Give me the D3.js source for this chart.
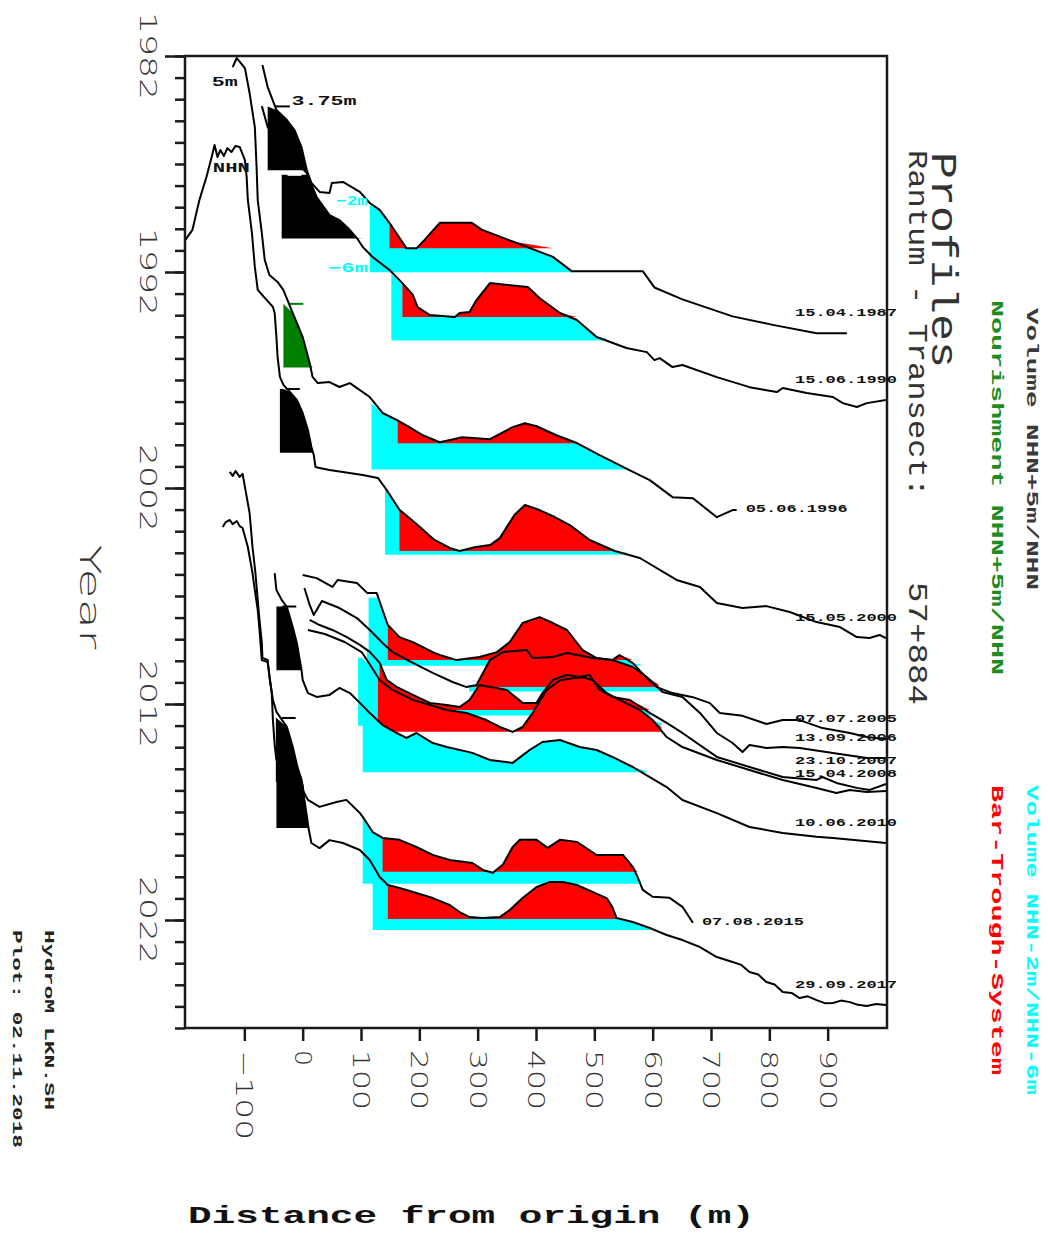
<!DOCTYPE html>
<html><head><meta charset="utf-8">
<script src="https://cdn.jsdelivr.net/npm/d3@7"></script>
<style>body{margin:0;background:#fff}</style>
</head><body><svg id="c" width="1048" height="1233"></svg>
<script>
// ---------------- DATA ----------------
const profileDates = ["15.04.1987","15.06.1990","05.06.1996","15.05.2000","07.07.2005","13.09.2006","23.10.2007","15.04.2008","10.06.2010","07.08.2015","29.09.2017"];

const p1987Dist = [-69,-60,-45,-27,-14,-2,7,15,29,46,50,69,98,115,132,149,178,195,209,235,290,307,360,429,461,583,603,651,737,806,881,933];
const p1987Elev = [6.19,4.89,3.54,2.95,2.36,1.36,0.01,-0.75,-1.28,-1.34,-0.75,-0.69,-1.28,-1.93,-2.34,-3.11,-4.6,-4.6,-4.1,-3.1,-3.1,-3.5,-4.2,-5.1,-5.94,-5.94,-6.9,-7.6,-8.6,-9.1,-9.6,-9.6];

const p1990Dist = [-70,-60,-31,-14,7,24,46,63,81,93,103,120,149,171,189,197,218,261,269,286,298,321,386,406,441,470,504,555,590,603,612,634,651,710,766,813,823,864,909,926,950,967,1000];
const p1990Elev = [7.79,6.56,5.21,4.62,3.85,2.44,1.38,1.09,0.5,0.03,-0.5,-1.09,-1.85,-2.62,-3.32,-4.03,-4.5,-4.62,-4.38,-4.32,-3.62,-2.62,-2.85,-3.5,-4.38,-4.79,-5.79,-6.44,-6.68,-7.15,-7.03,-7.56,-7.44,-8.15,-8.74,-9.03,-8.79,-9.09,-9.32,-9.68,-9.91,-9.68,-9.5];

const p1996Dist = [-120,-113,-99,-91,-82,-79,-77,-70,-65,-57,-43,-33,-17,0,12,17,26,46,63,81,115,137,161,183,206,235,274,321,360,381,401,435,471,509,561,595,634,669,710,737,744];
const p1996Elev = [17.68,18.21,17.62,16.15,14.15,11.79,9.85,7.91,6.33,5.45,5.04,4.56,3.21,1.8,0.27,-0.55,-0.91,-0.85,-1.14,-0.91,-1.73,-2.67,-3.08,-3.5,-3.98,-4.39,-4.09,-4.21,-3.5,-3.27,-3.45,-3.98,-4.45,-5.15,-6.04,-6.62,-7.62,-7.68,-8.8,-8.38,-8.38];

const p2000Dist = [-201,-189,-177,-165,-156,-151,-146,-141,-135,-129,-122,-115,-108,-99,-96,-94,-87,-82,-77,-65,-51,-48,-45,-43,-39,-33,-22,-10,0,9,15,19,22,29,46,103,129,144,166,183,201,226,252,269,295,321,338,363,381,406,432,458,492,535,578,641,681,710,754,795,835,881,921,950,972,989,1000];
const p2000Elev = [12.52,13.11,14.87,16.22,17.4,18.11,17.4,17.81,17.46,17.92,17.69,18.05,17.99,17.22,16.22,14.87,12.93,10.93,9.58,9.11,8.58,8.22,6.81,5.64,4.46,3.99,3.58,3.11,2.34,1.34,0.34,-0.13,-0.84,-0.89,-1.01,-1.31,-1.48,-2.19,-3.36,-3.84,-4.37,-5.13,-5.6,-5.78,-5.55,-5.43,-5.02,-3.66,-3.07,-3.37,-3.78,-4.25,-5.13,-5.78,-6.19,-7.48,-7.9,-8.84,-9.13,-9.02,-9.37,-9.96,-10.25,-10.84,-10.9,-10.72,-10.9];

const p2005Dist = [0,24,51,60,93,111,127,137,146,166,189,223,235,264,303,333,355,377,406,429,453,480,504,531,543,566,590,607,634,669,698,715,754,795,823,852,891,938,967,1000];
const p2005Elev = [-0.66,-0.84,-1.36,-0.95,-1.13,-1.72,-1.72,-2.72,-3.6,-4.31,-4.6,-5.19,-5.36,-5.66,-5.48,-5.19,-4.6,-3.48,-3.13,-3.48,-3.89,-5.07,-5.54,-5.66,-5.36,-5.84,-6.72,-7.25,-7.6,-7.84,-8.19,-8.77,-8.94,-9.42,-9.19,-9.19,-9.66,-9.95,-10.19,-10.31];

const p2006Dist = [3,12,19,33,63,93,115,137,154,189,223,257,281,298,321,343,384,394,429,453,497,531,566,590,617,651,681,710,737,754,766,795,823,852,909,967,1000];
const p2006Elev = [0.09,-0.91,-1.5,-0.68,-1.09,-1.68,-2.38,-3.15,-3.68,-4.32,-4.91,-5.44,-5.74,-5.62,-4.15,-3.68,-3.56,-4.03,-3.97,-3.74,-4.03,-4.15,-4.56,-5.15,-6.03,-6.32,-7.26,-8.44,-9.03,-9.56,-9.15,-9.32,-9.26,-9.32,-9.62,-9.91,-9.91];

const p2007Dist = [12,29,51,75,98,115,132,144,161,189,218,247,269,286,303,321,333,350,360,377,401,411,429,453,475,492,509,531,561,595,624,651,710,766,823,881,891,915,950,972,1000];
const p2007Elev = [-0.38,-0.68,-0.97,-1.38,-1.85,-2.26,-2.91,-3.91,-4.32,-4.79,-5.26,-5.38,-5.5,-5.09,-4.21,-4.32,-4.38,-4.5,-4.79,-5.26,-5.26,-4.68,-3.91,-3.62,-3.74,-3.62,-4.5,-4.91,-5.09,-5.85,-6.44,-7.03,-8.44,-9.03,-9.62,-9.79,-9.62,-9.97,-10.26,-10.38,-10.03];

const p2008Dist = [9,38,72,101,118,132,154,189,247,281,315,338,360,377,394,418,441,463,480,497,521,543,578,600,624,651,710,766,823,881,915,938,967,1000];
const p2008Elev = [-0.36,-0.6,-1.07,-1.66,-2.54,-3.31,-3.89,-4.48,-5.07,-5.25,-5.66,-6.07,-6.36,-6.07,-5.25,-3.91,-3.32,-3.2,-3.14,-3.32,-4.07,-4.48,-5.07,-5.66,-6.66,-7.25,-8.01,-8.6,-9.19,-9.66,-9.95,-9.78,-9.9,-9.83];

const p2010Dist = [-48,-45,-36,-27,-17,-10,-5,-2,0,9,24,46,63,81,98,115,137,161,178,195,223,247,291,321,360,389,411,441,475,504,531,566,595,624,651,710,766,823,881,909,1000];
const p2010Elev = [5.72,4.72,4.14,3.72,2.55,1.61,0.61,0.02,-0.57,-1.34,-1.57,-1.45,-1.04,-1.34,-1.92,-2.51,-3.22,-3.69,-3.98,-3.69,-4.28,-4.51,-4.86,-5.28,-5.45,-4.69,-4.22,-4.1,-4.51,-4.69,-5.1,-5.69,-6.28,-6.87,-7.63,-8.4,-9.22,-9.57,-9.8,-9.86,-10.16];

const p2015Dist = [-125,-120,-115,-108,-103,-99,-91,-86,-81,-77,-74,-70,-69,-60,-57,-51,-45,-27,-17,-9,-2,0,9,29,58,75,98,103,120,137,166,195,223,252,291,309,326,343,360,372,401,420,441,470,504,538,549,566,574,583,600,629,651,669];
const p2015Elev = [18.22,17.99,18.28,17.93,18.11,17.34,15.81,13.81,12.28,10.69,9.52,8.16,7.28,7.16,6.16,4.81,4.11,3.22,2.05,0.87,0.11,-0.48,-1.07,-1.48,-1.19,-1.07,-1.84,-2.07,-2.96,-3.31,-3.42,-3.84,-4.31,-4.6,-4.78,-5.19,-5.36,-4.89,-3.84,-3.42,-3.42,-3.89,-3.42,-3.54,-4.31,-4.31,-4.31,-5.01,-5.6,-6.36,-6.77,-6.83,-7.36,-8.3];

const p2017Dist = [-137,-132,-125,-120,-113,-108,-103,-94,-86,-82,-77,-74,-70,-60,-53,-51,-48,-45,-22,-5,0,3,7,10,15,29,46,69,98,115,132,146,166,195,223,252,269,286,309,338,355,377,401,423,446,470,497,521,531,538,566,595,624,651,681,710,737,752,766,781,795,809,823,838,852,866,881,895,909,923,938,952,967,983,1000];
const p2017Elev = [17.71,18.0,18.12,17.88,18.06,17.76,17.65,16.53,15.0,14.0,12.82,11.65,9.88,9.76,7.94,6.35,4.88,4.0,3.53,3.12,2.53,1.65,0.76,0,-0.88,-1.18,-0.71,-0.88,-1.29,-1.88,-2.88,-3.35,-3.53,-3.82,-4.12,-4.53,-4.94,-5.24,-5.29,-5.24,-4.82,-4.12,-3.47,-3.18,-3.18,-3.35,-3.76,-4.12,-4.65,-5.29,-5.53,-5.88,-6.29,-6.59,-7.0,-7.59,-7.88,-8.05,-8.47,-8.62,-9.06,-9.2,-9.65,-9.7,-10.0,-9.9,-10.12,-10.3,-10.29,-10.15,-10.24,-10.4,-10.47,-10.35,-10.41];

// volume NHN+5m/NHN (black) or nourishment (green): start distance (m)
const volumeStart = [-60,-36,-33,-39,null,null,null,null,-45,-46,-45];
const isNourishment = [false,false,true,false,false,false,false,false,false,false,false];
const volumeTop = 3.75;
// volume NHN-2m/NHN-6m (cyan)
const cyanStart = [115,152,118,141,113,285,110,95,103,103,120];
const cyanEnd   = [465,520,561,556,580,620,600,615,590,580,600];
// bar-trough-system (red)
const redStart = [149,171,163,166,146,285,132,129,null,137,146];
const redEnd   = [430,470,475,540,565,610,595,615,null,580,540];
const redLevel = [-4.6,-4.62,-4.45,-5.78,-5.66,-5.74,-5.68,-6.35,null,-5.3,-5.35];

const xTickValues = [-100,0,100,200,300,400,500,600,700,800,900];
const yearMajor = [1982,1992,2002,2012,2022];

// ---------------- CHART ----------------
const W = 1048, H = 1233;
const svg = d3.select('#c');
svg.append('rect').attr('width', W).attr('height', H).attr('fill', '#fff');

const X = d3.scaleLinear().domain([-200, 1000]).range([186, 886]);
const T = d3.scaleLinear().domain([1982, 2027]).range([56, 1028]);
const Z = d3.scaleLinear().domain([0, 1]).range([0, -17]);

function decYear(s){
  const [d,m,y] = s.split('.').map(Number);
  const t = Date.UTC(y,m-1,d), a = Date.UTC(y,0,1), b = Date.UTC(y+1,0,1);
  return y + (t-a)/(b-a);
}
const dists = [p1987Dist,p1990Dist,p1996Dist,p2000Dist,p2005Dist,p2006Dist,p2007Dist,p2008Dist,p2010Dist,p2015Dist,p2017Dist];
const elevs = [p1987Elev,p1990Elev,p1996Elev,p2000Elev,p2005Elev,p2006Elev,p2007Elev,p2008Elev,p2010Elev,p2015Elev,p2017Elev];
const profiles = profileDates.map((s,i)=>({
  label: s, t: decYear(s),
  pts: dists[i].map((d,j)=>({d, e: elevs[i][j]}))
}));
const Y = (p, e) => T(p.t) + Z(e);

const defs = svg.append('defs');
const fillG = svg.append('g');
profiles.forEach((p,i)=>{
  const layers = [];
  layers.push({x0: cyanStart[i], x1: cyanEnd[i], lo: -6, hi: -2, base: -6, color: '#00ffff'});
  if (redStart[i] != null) layers.push({x0: redStart[i], x1: redEnd[i], lo: redLevel[i], hi: 99, base: redLevel[i], color: '#ff0000'});
  if (volumeStart[i] != null) layers.push({x0: volumeStart[i], x1: 300, lo: 0, hi: volumeTop, base: 0, color: isNourishment[i] ? '#007f00' : '#000000'});
  layers.forEach((L,k)=>{
    const id = `clip${i}_${k}`;
    defs.append('clipPath').attr('id', id).append('rect')
      .attr('x', X(L.x0)).attr('y', 0).attr('width', X(L.x1) - X(L.x0)).attr('height', H);
    const area = d3.area()
      .x(d => X(d.d))
      .y0(() => Y(p, L.base))
      .y1(d => Y(p, Math.max(L.lo, Math.min(L.hi, d.e))));
    fillG.append('path').datum(p.pts).attr('d', area)
      .attr('fill', L.color).attr('clip-path', `url(#${id})`);
  });
});

// 3.75 m markers
const markG = svg.append('g');
profiles.forEach((p,i)=>{
  if (volumeStart[i] == null) return;
  const off = i === 0 ? 14 : 10;
  markG.append('line')
    .attr('x1', X(volumeStart[i] + off)).attr('x2', X(volumeStart[i] + off + 24))
    .attr('y1', Y(p, volumeTop)).attr('y2', Y(p, volumeTop))
    .attr('stroke', isNourishment[i] ? '#007f00' : (i === 1 ? '#fff' : '#000')).attr('stroke-width', 2);
});

// profile lines
const line = d3.line().x(d => X(d.d));
const lineG = svg.append('g');
profiles.forEach(p=>{
  lineG.append('path').datum(p.pts)
    .attr('d', line.y(d => Y(p, d.e)))
    .attr('fill', 'none').attr('stroke', '#000').attr('stroke-width', 2)
    .attr('stroke-linejoin', 'round');
});

// frame and axes
const axisColor = '#1a1a1a';
svg.append('rect').attr('x', X(-200) - 1).attr('y', T(1982)).attr('width', X(1000) - X(-200) + 2).attr('height', T(2027) - T(1982))
  .attr('fill', 'none').attr('stroke', axisColor).attr('stroke-width', 2.5);
const yMinor = svg.append('g').attr('transform', `translate(${X(-200)-1},0)`)
  .call(d3.axisLeft(T).tickValues(d3.range(1982, 2028)).tickSize(10).tickSizeOuter(0).tickFormat(''));
const yMajor = svg.append('g').attr('transform', `translate(${X(-200)-1},0)`)
  .call(d3.axisLeft(T).tickValues(yearMajor).tickSize(20).tickSizeOuter(0).tickFormat(''));
const xAx = svg.append('g').attr('transform', `translate(0,${T(2027)})`)
  .call(d3.axisBottom(X).tickValues(xTickValues).tickSize(13).tickSizeOuter(0).tickFormat(''));
[yMinor, yMajor, xAx].forEach(g=>{
  g.selectAll('path.domain').remove();
  g.selectAll('line').attr('stroke', axisColor).attr('stroke-width', 2.5);
});

// rotated text helper (reads top -> bottom)
function rtext(x, y, str, o){
  const t = svg.append('text')
    .attr('x', x).attr('y', y)
    .attr('transform', `rotate(90,${x},${y})`)
    .attr('dominant-baseline', 'central')
    .attr('text-anchor', o.anchor || 'start')
    .attr('font-family', o.family || "'Liberation Mono', monospace")
    .attr('font-size', o.size)
    .attr('font-weight', o.weight || 'normal')
    .attr('fill', o.fill || '#222')
    .text(str);
  if (o.len) t.attr('textLength', o.len).attr('lengthAdjust', 'spacingAndGlyphs');
  return t;
}
const sansLight = "'DejaVu Sans', sans-serif";

// year labels
yearMajor.forEach(v=>{
  rtext(148, T(v), String(v), {anchor:'middle', size: 23, family: sansLight, weight: 200, fill:'#333', len: 88});
});
rtext(89, 597, 'Year', {anchor:'middle', size: 28, family: sansLight, weight: 200, fill:'#333', len: 105});

// x tick labels
xTickValues.forEach(v=>{
  const s = v < 0 ? '\u2212' + Math.abs(v) : String(v);
  const len = s.length === 1 ? 16 : (s.length === 3 ? 60 : 90);
  rtext(X(v), T(2027) + 22, s, {size: 23, family: sansLight, weight: 200, fill:'#333', len});
});

svg.append('text').attr('x', 188).attr('y', 1216).attr('dominant-baseline', 'central')
  .attr('font-family', "'Liberation Mono', monospace").attr('font-size', 24).attr('font-weight', 'bold')
  .attr('fill', '#111').attr('textLength', 567).attr('lengthAdjust', 'spacingAndGlyphs')
  .text('Distance from origin (m)');

// titles and legend (rotated)
rtext(941, 152, 'Profiles', {size: 36, fill:'#333', len: 216});
rtext(916, 150, 'Rantum - Transect:', {size: 27, fill:'#333', len: 347});
rtext(916, 582, '57+884', {size: 27, fill:'#333', len: 123});
rtext(1031, 308, 'Volume NHN+5m/NHN', {size: 17, weight:'bold', fill:'#3a3a3a', len: 282});
rtext(996, 300, 'Nourishment NHN+5m/NHN', {size: 17, weight:'bold', fill:'#1e8c1e', len: 375});
rtext(1031, 785, 'Volume NHN-2m/NHN-6m', {size: 17, weight:'bold', fill:'#00ffff', len: 310});
rtext(996, 785, 'Bar-Trough-System', {size: 17, weight:'bold', fill:'#ff0000', len: 290});
rtext(48, 930, 'HydroM LKN.SH', {size: 13, weight:'bold', fill:'#222', len: 180});
rtext(16, 930, 'Plot: 02.11.2018', {size: 13, weight:'bold', fill:'#222', len: 218});

// annotations on first profile
const p0 = profiles[0];
function htext(x, y, str, o){
  const t = svg.append('text').attr('x', x).attr('y', y).attr('dominant-baseline','central')
    .attr('text-anchor', o.anchor || 'start')
    .attr('font-family', "'Liberation Mono', monospace").attr('font-size', o.size || 13)
    .attr('font-weight', 'bold').attr('fill', o.fill || '#111').text(str);
  if (o.len) t.attr('textLength', o.len).attr('lengthAdjust','spacingAndGlyphs');
  return t;
}
htext(X(-156), Y(p0, 5) - 3, '5m', {len: 26});
htext(X(-154), Y(p0, 0) - 2, 'NHN', {len: 37});
htext(X(-19), Y(p0, volumeTop) - 5, '3.75m', {len: 65});
htext(X(112), Y(p0, -2) - 3, '\u22122m', {anchor:'end', fill:'#00ffff', len: 32});
htext(X(112), Y(p0, -6) - 4, '\u22126m', {anchor:'end', fill:'#00ffff', len: 40});

// date labels (right-aligned ones kept at least 13 px apart)
const labels = profiles.map(p=>{
  const last = p.pts[p.pts.length-1];
  const ex = X(last.d), ey = Y(p, last.e);
  return (ex + 120 < 900) ? {text: p.label, x: ex + 9, y: ey - 1, anchor: 'start'}
                          : {text: p.label, x: 897, y: ey - 20, anchor: 'end'};
});
const right = labels.filter(l => l.anchor === 'end').sort((a,b) => a.y - b.y);
for (let k = 1; k < right.length; k++) {
  const gap = right[k].y - right[k-1].y;
  if (gap < 13) { const s = (13 - gap) / 2; right[k-1].y -= s; right[k].y += s; }
}
labels.forEach(l => htext(l.x, l.y, l.text, {size: 11, anchor: l.anchor, len: 102}));
</script>
</body></html>
